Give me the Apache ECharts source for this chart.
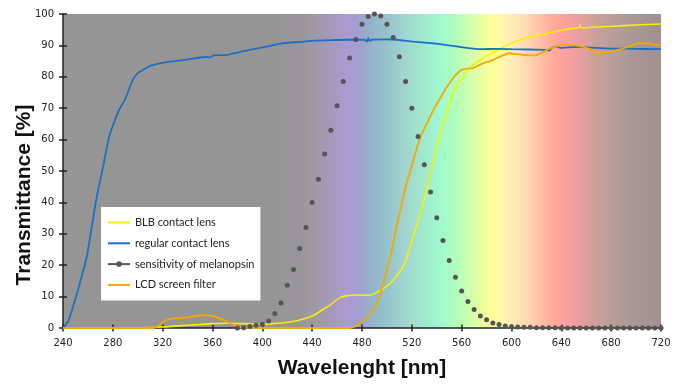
<!DOCTYPE html>
<html>
<head>
<meta charset="utf-8">
<script src="https://cdn.jsdelivr.net/npm/echarts@6/dist/echarts.min.js"></script>
<style>
  html, body { margin: 0; padding: 0; background: #ffffff; }
  #chart { width: 677px; height: 385px; }
</style>
</head>
<body>
<div id="chart"></div>
<script>
// x axis ticks (nm) and y axis ticks (%)
const xTicks = [240, 280, 320, 360, 400, 440, 480, 520, 560, 600, 640, 680, 720]
const yTicks = [0, 10, 20, 30, 40, 50, 60, 70, 80, 90, 100]

const seriesNames = ['BLB contact lens', 'regular contact lens', 'sensitivity of melanopsin', 'LCD screen filter']

// BLB contact lens
const blbWl = [240, 300, 320, 330, 340, 350, 360, 372, 385, 400, 412, 422, 432, 441, 447, 454, 462, 470, 478, 486, 494, 500, 505, 513, 517, 521, 525, 529, 532, 535, 538, 542, 545, 548, 553, 557, 561, 565, 569, 577, 588, 596, 605, 615, 628, 641, 650, 654, 655, 656, 665, 681, 700, 720]
const blbVal = [0.1, 0.1, 0.3, 0.6, 0.9, 1.1, 1.4, 1.5, 1.4, 1.2, 1.5, 1.9, 2.8, 4, 5.5, 7.2, 9.6, 10.4, 10.5, 10.4, 11.8, 13.3, 15.2, 19.5, 23.5, 29, 34, 39.7, 44, 49, 54, 60.5, 65, 68.5, 74.7, 77.7, 80, 82, 83.7, 85.9, 88.3, 90, 91.5, 92.8, 93.8, 94.9, 95.5, 95.7, 96.6, 95.6, 95.8, 96.1, 96.5, 96.8]

// regular contact lens
const regWl = [240, 244, 248, 253, 259, 263, 267, 272, 277, 281, 285, 290, 293, 296, 300, 304, 310, 318, 326, 336, 346, 355, 358, 361, 366, 371, 376, 385, 395, 403, 410, 417, 430, 443, 455, 470, 482, 484, 485, 486, 488, 500, 508, 521, 535, 548, 561, 569, 575, 590, 600, 615, 628, 630, 633, 636, 640, 645, 655, 668, 681, 700, 720]
const regVal = [0, 2, 6.7, 13.5, 22.6, 32, 41.5, 51, 60.9, 65.5, 69.4, 73, 76, 79, 81.2, 82.1, 83.5, 84.3, 84.8, 85.3, 85.9, 86.3, 86.2, 86.8, 86.9, 86.9, 87.4, 88.2, 89, 89.6, 90.2, 90.7, 91.1, 91.5, 91.7, 91.8, 91.8, 91.2, 92.3, 91.4, 91.8, 91.9, 91.8, 91.2, 90.7, 90.1, 89.4, 89, 88.8, 88.9, 88.8, 88.7, 88.6, 88.3, 89.4, 89.6, 89.2, 89.4, 89.5, 89.2, 89, 88.9, 88.8]

// sensitivity of melanopsin (5 nm steps)
const melWl = [380, 385, 390, 395, 400, 405, 410, 415, 420, 425, 430, 435, 440, 445, 450, 455, 460, 465, 470, 475, 480, 485, 490, 495, 500, 505, 510, 515, 520, 525, 530, 535, 540, 545, 550, 555, 560, 565, 570, 575, 580, 585, 590, 595, 600, 605, 610, 615, 620, 625, 630, 635, 640, 645, 650, 655, 660, 665, 670, 675, 680, 685, 690, 695, 700, 705, 710, 715, 720]
const melVal = [0, 0.1, 0.5, 0.9, 1.2, 2.2, 4.6, 8, 13.6, 18.6, 25.3, 32, 40, 47.4, 55.4, 63, 70.8, 78.5, 86, 91.9, 96.7, 99.2, 100, 99.4, 96.7, 92.5, 86.4, 78.5, 70, 61, 52, 43.3, 35.1, 27.9, 21.5, 16.2, 11.8, 8.4, 5.9, 3.8, 2.6, 1.6, 1.1, 0.6, 0.4, 0.3, 0.2, 0.2, 0.1, 0.1, 0.1, 0.1, 0, 0, 0, 0, 0, 0, 0, 0, 0, 0, 0, 0, 0, 0, 0, 0, 0]

// LCD screen filter
const lcdWl = [240, 312, 316, 319, 322, 328, 340, 350, 355, 360, 365, 370, 375, 380, 385, 400, 470, 475, 478, 483, 489, 493, 497, 501, 505, 508, 512, 515, 519, 522, 526, 530, 534, 538, 542, 546, 550, 554, 557, 560, 564, 569, 573, 577, 583, 588, 593, 598, 604, 609, 615, 620, 625, 631, 637, 644, 650, 657, 665, 673, 680, 687, 695, 703, 710, 715, 720]
const lcdVal = [0, 0, 0.5, 1.5, 2.3, 3, 3.4, 4, 4.1, 3.8, 3.2, 2.3, 1.3, 0.5, 0.1, 0, 0, 0.6, 1.4, 2.8, 5.6, 9, 14.2, 20, 26.9, 33, 39.7, 45, 50.3, 54.5, 59.8, 63.5, 66.7, 70, 72.6, 75.5, 77.9, 80, 81.3, 82.2, 82.6, 82.8, 83.5, 84.3, 85, 85.9, 86.8, 87.5, 87.2, 87, 86.8, 86.9, 87.8, 89, 89.8, 90.3, 90.1, 89.6, 88.5, 87.8, 88, 88.7, 89.7, 90.7, 90.6, 90.2, 90.1]

const zip = (xs, ys) => xs.map((x, i) => [x, ys[i]])

// spectrum behind the plot, stops by wavelength
const spectrum = [
  [240, '#959595'], [400, '#959595'], [430, '#999699'], [446, '#a09aab'],
  [468, '#a99ad2'], [477, '#a39dd0'], [487, '#92b3c9'], [500, '#96c2cc'],
  [513, '#a0d3d0'], [530, '#a0eacc'], [542, '#a0f8d0'], [552, '#aaffc0'],
  [564, '#c8ffb0'], [584, '#ffff98'], [595, '#fff4b0'], [603, '#ffe8b8'],
  [616, '#ffd0b0'], [635, '#ffa898'], [643, '#ffa0a0'], [669, '#c8a098'],
  [696, '#aa9898'], [720, '#a09090']
]

const chart = echarts.init(document.getElementById('chart'))

const labelFont = { fontFamily: 'DejaVu Sans', fontSize: 10, color: '#222' }
const titleFont = { fontFamily: 'Liberation Sans', fontSize: 21, fontWeight: 'bold', color: '#111' }
const noSymbol = { opacity: 0, borderWidth: 0 }

const option = {
  animation: false,
  backgroundColor: '#ffffff',
  grid: {
    left: 63, right: 16, top: 14, bottom: 57,
    show: true,
    borderWidth: 0,
    backgroundColor: {
      type: 'linear', x: 0, y: 0, x2: 1, y2: 0,
      colorStops: spectrum.map(s => ({ offset: (s[0] - 240) / 480, color: s[1] }))
    }
  },
  legend: {
    orient: 'vertical',
    left: 101, top: 207,
    padding: [10, 6, 10, 6],
    backgroundColor: '#ffffff',
    itemWidth: 22, itemHeight: 7, itemGap: 9.8,
    textStyle: { fontFamily: 'Lato', fontSize: 11, color: '#222' },
    data: [
      { name: seriesNames[0], itemStyle: noSymbol },
      { name: seriesNames[1], itemStyle: noSymbol },
      { name: seriesNames[2], lineStyle: { width: 2, color: '#555', opacity: 1 } },
      { name: seriesNames[3], itemStyle: noSymbol }
    ]
  },
  xAxis: [
    {
      type: 'value', min: 240, max: 720, interval: 40,
      name: 'Wavelenght [nm]', nameLocation: 'middle', nameGap: 30, nameMoveOverlap: false,
      nameTextStyle: titleFont,
      axisLine: { show: true, onZero: false, lineStyle: { color: '#222', width: 1.5 } },
      axisTick: { show: true, length: 3.5, lineStyle: { color: '#222', width: 1.5 } },
      axisLabel: Object.assign({ margin: 10, customValues: xTicks }, labelFont),
      splitLine: { show: false }
    },
    {
      type: 'value', min: 240, max: 720, interval: 40, position: 'bottom',
      axisLine: { show: false, onZero: false },
      axisTick: { show: true, inside: true, length: 3.5, lineStyle: { color: '#222', width: 1.5 } },
      axisLabel: { show: false },
      splitLine: { show: false }
    }
  ],
  yAxis: [
    {
      type: 'value', min: 0, max: 100, interval: 10,
      name: 'Transmittance [%]', nameLocation: 'middle', nameGap: 28, nameMoveOverlap: false,
      nameTextStyle: Object.assign({ padding: [0, 48, 0, 0] }, titleFont),
      axisLine: { show: true, onZero: false, lineStyle: { color: '#222', width: 1.5 } },
      axisTick: { show: true, length: 4, lineStyle: { color: '#222', width: 1.5 } },
      axisLabel: Object.assign({ margin: 9, customValues: yTicks }, labelFont),
      splitLine: { show: false }
    },
    {
      type: 'value', min: 0, max: 100, interval: 10, position: 'left',
      axisLine: { show: false, onZero: false },
      axisTick: { show: true, inside: true, length: 4, lineStyle: { color: '#222', width: 1.5 } },
      axisLabel: { show: false },
      splitLine: { show: false }
    }
  ],
  series: [
    {
      name: seriesNames[0], type: 'line', symbol: 'none', smooth: 0.25,
      color: '#f7f000',
      lineStyle: { width: 1.6, color: '#f7f000' },
      data: zip(blbWl, blbVal)
    },
    {
      name: seriesNames[1], type: 'line', symbol: 'none', smooth: 0.25,
      color: '#1c6fc4',
      lineStyle: { width: 1.8, color: '#1c6fc4' },
      data: zip(regWl, regVal)
    },
    {
      name: seriesNames[2], type: 'line', symbol: 'circle', symbolSize: 5,
      color: '#555',
      itemStyle: { color: '#555' },
      lineStyle: { width: 0, opacity: 0 },
      data: zip(melWl, melVal)
    },
    {
      name: seriesNames[3], type: 'line', symbol: 'none', smooth: 0.25,
      color: '#f2aa00',
      lineStyle: { width: 1.8, color: '#f2aa00' },
      data: zip(lcdWl, lcdVal)
    }
  ]
}

chart.setOption(option)
</script>
</body>
</html>
